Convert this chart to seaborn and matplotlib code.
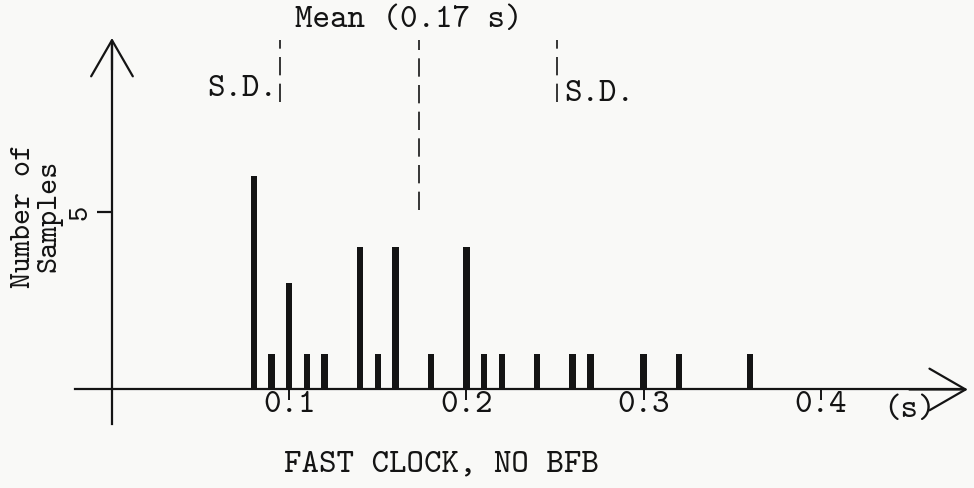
import numpy as np
import pandas as pd
import matplotlib
matplotlib.use("Agg")
import matplotlib.pyplot as plt
import seaborn as sns

# ---- data ----
times = [0.08, 0.09, 0.10, 0.11, 0.12, 0.14, 0.15, 0.16, 0.18, 0.20,
         0.21, 0.22, 0.24, 0.26, 0.27, 0.30, 0.32, 0.36]
counts = [6, 1, 3, 1, 1, 4, 1, 4, 1, 4,
          1, 1, 1, 1, 1, 1, 1, 1]
mean_value = 0.173
sd_value = 0.078
x_ticks = [0.1, 0.2, 0.3, 0.4]
x_tick_labels = ["0.1", "0.2", "0.3", "0.4"]
y_ticks = [5]
y_tick_labels = ["5"]

title_text = "FAST CLOCK, NO BFB"
ylabel_text = "Number of\nSamples"
xunit_text = "(s)"
mean_text = "Mean (0.17 s)"
sd_text = "S.D."

df = pd.DataFrame({"time": times, "count": counts})

sns.set_style("white")
FONT = ["cmtt10", "DejaVu Sans Mono"]
plt.rcParams["font.family"] = FONT
INK = "#141414"
BG = "#f9f9f7"
FS = 24

fig = plt.figure(figsize=(9.74, 4.88), dpi=100, facecolor=BG)
ax = fig.add_axes([0, 0, 1, 1])
ax.set_facecolor(BG)

sns.barplot(data=df, x="time", y="count", native_scale=True, width=0.36,
            color=INK, saturation=1, linewidth=0, ax=ax)

ax.set_xlim(-0.0632, 0.4865)
ax.set_ylim(-2.775, 10.97)
ax.set_xlabel("")
ax.set_ylabel("")

# axes lines
for side in ["top", "right"]:
    ax.spines[side].set_visible(False)
ax.spines["left"].set_position(("data", 0))
ax.spines["bottom"].set_position(("data", 0))
ax.spines["left"].set_bounds(-0.97, 9.8)
ax.spines["bottom"].set_bounds(-0.021, 0.48)
for side in ["left", "bottom"]:
    ax.spines[side].set_color(INK)
    ax.spines[side].set_linewidth(1.6)

arrow_kw = dict(arrowstyle="->,head_length=1.3,head_width=0.75",
                lw=1.6, color=INK, shrinkA=0, shrinkB=0, mutation_scale=20)
ax.annotate("", xy=(0.483, 0), xytext=(0.45, 0), arrowprops=arrow_kw)
ax.annotate("", xy=(0, 9.9), xytext=(0, 9.0), arrowprops=arrow_kw)

# ticks
ax.set_xticks(x_ticks)
ax.set_xticklabels(x_tick_labels, fontsize=FS, color=INK, family=FONT)
ax.set_yticks(y_ticks)
ax.set_yticklabels(y_tick_labels, fontsize=FS - 3, color=INK, family=FONT,
                   rotation=90, va="center")
ax.tick_params(axis="x", bottom=True, direction="out", length=8, width=1.4,
               color=INK, pad=-7)
ax.tick_params(axis="y", left=True, direction="out", length=11, width=1.6,
               color=INK, pad=2)

# mean and S.D. markers
dash = (0, (11, 5))
ax.vlines([mean_value], 5.05, 9.85, colors=INK, linewidth=1.2, linestyles=[dash])
ax.vlines([mean_value - sd_value, mean_value + sd_value], 8.1, 9.85,
          colors=INK, linewidth=1.2, linestyles=[dash])

ax.text(0.1676, 10.4, mean_text, ha="center", va="center", fontsize=FS,
        color=INK, family=FONT)
ax.text(mean_value - sd_value - 0.002, 8.45, sd_text, ha="right", va="center",
        fontsize=FS, color=INK, family=FONT)
ax.text(mean_value + sd_value + 0.004, 8.3, sd_text, ha="left", va="center",
        fontsize=FS, color=INK, family=FONT)
ax.text(0.4503, -0.58, xunit_text, ha="center", va="center", fontsize=FS,
        color=INK, family=FONT)
ax.text(0.1857, -2.13, title_text, ha="center", va="center", fontsize=FS,
        color=INK, family=FONT)
ax.text(-0.0425, 4.9, ylabel_text, ha="center", va="center", rotation=90,
        fontsize=FS - 2, color=INK, family=FONT, linespacing=0.95,
        multialignment="center")

fig.savefig("out.png", dpi=100, facecolor=BG)
